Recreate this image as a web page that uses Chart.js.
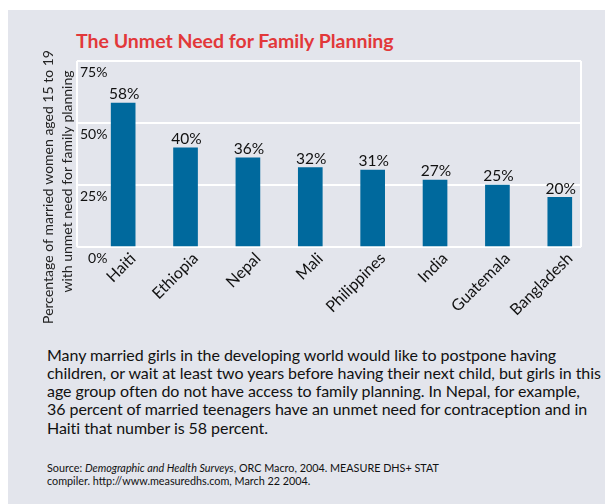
<!DOCTYPE html>
<html>
<head>
<meta charset="utf-8">
<script src="https://cdn.jsdelivr.net/npm/chart.js@4.4.1/dist/chart.umd.min.js"></script>
<style>
  html, body { margin: 0; padding: 0; background: #fff; width: 605px; height: 504px; overflow: hidden; }
  #panel { position: absolute; left: 8px; top: 10px; width: 597px; height: 494px; background: #e3e5ec; }
  #chartWrap { position: absolute; left: 0; top: 0; width: 605px; height: 330px; }
  h1 { position: absolute; left: 76px; top: 31px; margin: 0; font: bold 19.5px/19.5px Lato, sans-serif; color: #e2383a; white-space: nowrap; }
  #note { position: absolute; left: 47px; top: 345.6px; margin: 0; font: 16px/18.3px Lato, sans-serif; letter-spacing: -0.05px; color: #111; white-space: nowrap; }
  #source { position: absolute; left: 47px; top: 460.5px; margin: 0; font: 10.8px/13.5px Lato, sans-serif; color: #111; white-space: nowrap; }
</style>
</head>
<body>
<div id="panel"></div>
<h1>The Unmet Need for Family Planning</h1>
<div id="chartWrap"><canvas id="unmetChart"></canvas></div>
<p id="note">Many married girls in the developing world would like to postpone having<br>children, or wait at least two years before having their next child, but girls in this<br>age group often do not have access to family planning. In Nepal, for example,<br>36 percent of married teenagers have an unmet need for contraception and in<br>Haiti that number is 58 percent.</p>
<p id="source">Source: <i>Demographic and Health Surveys</i>, ORC Macro, 2004. MEASURE DHS+ STAT<br>compiler. http://www.measuredhs.com, March 22 2004.</p>

<script>
// chart data
const countries = ['Haiti', 'Ethiopia', 'Nepal', 'Mali', 'Philippines', 'India', 'Guatemala', 'Bangladesh'];
const unmetNeed = [58, 40, 36, 32, 31, 27, 25, 20];
const yTicks = [0, 25, 50, 75];
const yTitle = ['Percentage of married women aged 15 to 19', 'with unmet need for family planning'];

// white frame round the plot area
const framePlugin = {
    id: 'frame',
    beforeDatasetsDraw(chart) {
        const a = chart.chartArea;
        const ctx = chart.ctx;
        ctx.save();
        ctx.strokeStyle = '#ffffff';
        ctx.lineWidth = 2;
        ctx.beginPath();
        ctx.moveTo(a.left, a.top);
        ctx.lineTo(a.left, a.bottom);
        ctx.moveTo(a.right, a.top);
        ctx.lineTo(a.right, a.bottom);
        ctx.stroke();
        ctx.restore();
    }
};

// percent labels over the bars
const valueLabels = {
    id: 'valueLabels',
    afterDatasetsDraw(chart) {
        const ctx = chart.ctx;
        const meta = chart.getDatasetMeta(0);
        ctx.save();
        ctx.font = '15.5px Lato';
        ctx.fillStyle = '#111';
        ctx.textAlign = 'center';
        ctx.textBaseline = 'bottom';
        meta.data.forEach(function(bar, i) {
            ctx.fillText(unmetNeed[i] + '%', bar.x + 1, bar.y - 1);
        });
        ctx.restore();
    }
};

// two-line rotated y title
const yTitlePlugin = {
    id: 'yTitle',
    afterDraw(chart) {
        const ctx = chart.ctx;
        const pos = [[48, 187], [67, 181.5]];
        ctx.save();
        ctx.font = '14px Lato';
        ctx.fillStyle = '#222';
        ctx.textAlign = 'center';
        ctx.textBaseline = 'middle';
        yTitle.forEach(function(line, i) {
            ctx.save();
            ctx.translate(pos[i][0], pos[i][1]);
            ctx.rotate(-Math.PI / 2);
            ctx.fillText(line, 0, 0);
            ctx.restore();
        });
        ctx.restore();
    }
};

function drawChart() {
    Chart.defaults.font.family = 'Lato';
    const ctx = document.getElementById('unmetChart').getContext('2d');
    new Chart(ctx, {
        type: 'bar',
        data: {
            datasets: [{
                data: unmetNeed.map(function(v, i) { return { x: i, y: v }; }),
                backgroundColor: '#00699d',
                barThickness: 24
            }]
        },
        options: {
            responsive: true,
            maintainAspectRatio: false,
            animation: false,
            layout: { padding: { left: 77, right: 24, top: 61, bottom: 0 } },
            plugins: {
                legend: { display: false },
                tooltip: { enabled: false }
            },
            scales: {
                x: {
                    type: 'linear',
                    offset: false,
                    min: -0.74,
                    max: 7.34,
                    afterBuildTicks: function(scale) {
                        scale.ticks = countries.map(function(c, i) { return { value: i }; });
                    },
                    afterFit: function(scale) {
                        scale.height = 83;
                        scale.paddingLeft = 0;
                        scale.paddingRight = 0;
                    },
                    grid: { display: false },
                    border: { display: false },
                    ticks: {
                        autoSkip: false,
                        minRotation: 45,
                        maxRotation: 45,
                        padding: -6,
                        labelOffset: 10,
                        color: '#111',
                        font: { size: 16 },
                        callback: function(value) { return countries[value]; }
                    }
                },
                y: {
                    min: 0,
                    max: 75,
                    afterBuildTicks: function(scale) {
                        scale.ticks = yTicks.map(function(v) { return { value: v }; });
                    },
                    afterFit: function(scale) {
                        scale.width = 0;
                        scale.paddingTop = 0;
                        scale.paddingBottom = 0;
                    },
                    grid: { color: '#ffffff', lineWidth: 2, drawTicks: false },
                    border: { display: false },
                    ticks: {
                        mirror: true,
                        crossAlign: 'far',
                        padding: 3,
                        labelOffset: 11,
                        color: '#111',
                        font: { size: 14 },
                        callback: function(value) { return value + '%'; }
                    }
                }
            }
        },
        plugins: [framePlugin, valueLabels, yTitlePlugin]
    });
}

document.fonts.load('15px Lato').then(drawChart, drawChart);
</script>
</body>
</html>
